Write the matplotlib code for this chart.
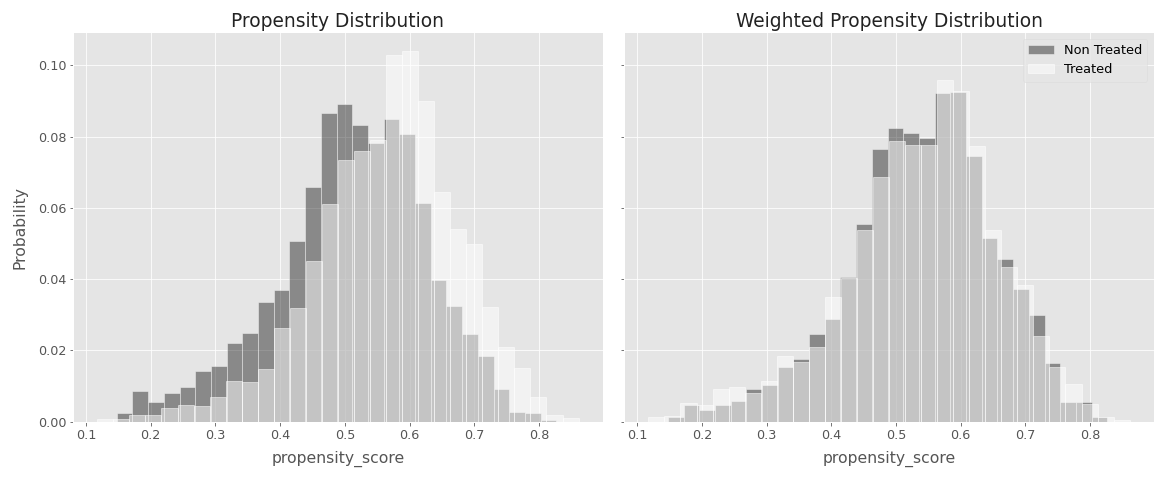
import numpy as np
import matplotlib.pyplot as plt

# bin layout (seaborn auto bins, one set per group)
nt_start, nt_width, nt_bins = 0.1475, 0.02425, 28
t_start, t_width, t_bins = 0.1175, 0.02478, 30

# probability per bin, unweighted
nt_prob = [0.0023, 0.0086, 0.0054, 0.0081, 0.0096, 0.0143, 0.0157, 0.0222,
           0.0248, 0.0336, 0.0370, 0.0507, 0.0659, 0.0868, 0.0891, 0.0834,
           0.0781, 0.0850, 0.0808, 0.0614, 0.0397, 0.0325, 0.0246, 0.0183,
           0.0093, 0.0028, 0.0024, 0.0005]
t_prob = [0.0007, 0.0008, 0.0020, 0.0019, 0.0039, 0.0047, 0.0043, 0.0070,
          0.0114, 0.0112, 0.0149, 0.0263, 0.0319, 0.0452, 0.0610, 0.0734,
          0.0761, 0.0790, 0.1029, 0.1041, 0.0901, 0.0645, 0.0542, 0.0500,
          0.0323, 0.0210, 0.0151, 0.0068, 0.0020, 0.0010]

# probability per bin, weighted
nt_prob_w = [0.0013, 0.0047, 0.0033, 0.0047, 0.0059, 0.0093, 0.0104, 0.0153,
             0.0177, 0.0247, 0.0287, 0.0407, 0.0554, 0.0766, 0.0824, 0.0811,
             0.0796, 0.0922, 0.0926, 0.0747, 0.0515, 0.0456, 0.0372, 0.0299,
             0.0166, 0.0054, 0.0054, 0.0014]
t_prob_w = [0.0014, 0.0017, 0.0052, 0.0047, 0.0091, 0.0098, 0.0081, 0.0115,
            0.0184, 0.0167, 0.0210, 0.0350, 0.0403, 0.0538, 0.0686, 0.0788,
            0.0778, 0.0778, 0.0960, 0.0929, 0.0775, 0.0537, 0.0435, 0.0384,
            0.0241, 0.0154, 0.0106, 0.0050, 0.0012, 0.0005]

nt_edges = nt_start + nt_width * np.arange(nt_bins + 1)
t_edges = t_start + t_width * np.arange(t_bins + 1)

plt.style.use('ggplot')
plt.rcParams['xtick.labelsize'] = 12.8
plt.rcParams['ytick.labelsize'] = 12.8
fig, axes = plt.subplots(1, 2, figsize=(1163 / 72, 483 / 72), dpi=72, sharey=True)
fig.subplots_adjust(left=0.063, right=0.992, bottom=0.127, top=0.933, wspace=0.041)


def draw(ax, nt, t, title):
    ax.hist(nt_edges[:-1], bins=nt_edges, weights=nt, color='black', alpha=0.4,
            edgecolor='white', linewidth=1, label='Non Treated')
    ax.hist(t_edges[:-1], bins=t_edges, weights=t, color='white', alpha=0.5,
            edgecolor='white', linewidth=1, label='Treated')
    ax.set_title(title, fontsize=18.6, color='#222222', pad=5)
    ax.set_xlabel('propensity_score', fontsize=15.6, color='#555555', labelpad=9)
    ax.margins(x=0.05)
    ax.set_xticks([0.1, 0.2, 0.3, 0.4, 0.5, 0.6, 0.7, 0.8])


draw(axes[0], nt_prob, t_prob, 'Propensity Distribution')
draw(axes[1], nt_prob_w, t_prob_w, 'Weighted Propensity Distribution')
axes[0].set_ylabel('Probability', fontsize=15.6, color='#555555', labelpad=10)
axes[0].set_yticks([0.0, 0.02, 0.04, 0.06, 0.08, 0.10])
axes[0].set_yticklabels(['0.00', '0.02', '0.04', '0.06', '0.08', '0.10'])
axes[0].set_ylim(0, 0.1093)

leg = axes[1].legend(loc='upper right', fontsize=12.9)
leg.get_frame().set_facecolor('#E5E5E5')
leg.get_frame().set_edgecolor('#D8D8D8')

fig.savefig('out.png', dpi=72)
